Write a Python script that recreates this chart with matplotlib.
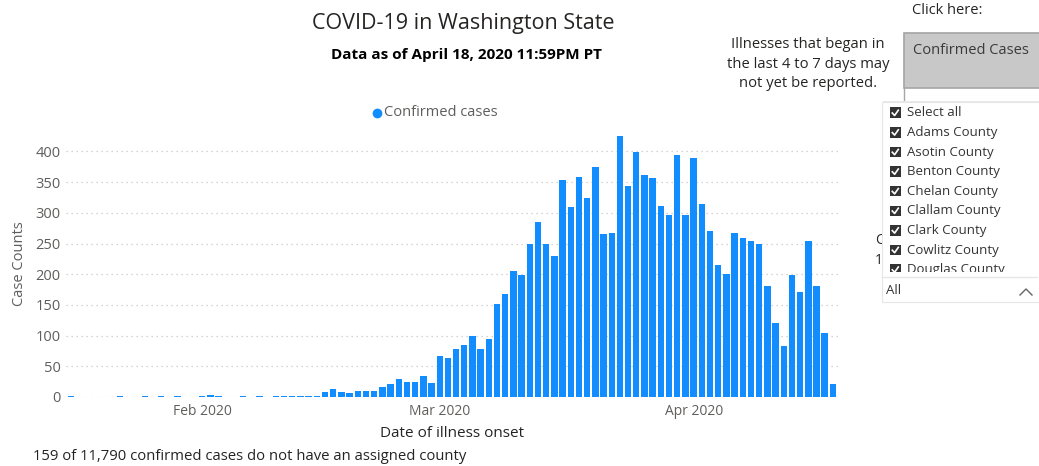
import pandas as pd
import matplotlib
matplotlib.use("Agg")
import matplotlib.pyplot as plt
import matplotlib.dates as mdates
from matplotlib.patches import Rectangle
from matplotlib.lines import Line2D

plt.rcParams['font.family'] = ['Open Sans', 'DejaVu Sans']

# daily confirmed cases by date of illness onset
days = pd.date_range('2020-01-16', '2020-04-18', freq='D')
cases_jan = [1, 0, 0, 0, 0, 0, 1, 0, 0, 1, 0, 1, 0, 1, 0, 0]
cases_feb = [2, 3, 2, 0, 0, 1, 0, 1, 0, 1, 1, 1, 1, 1, 2, 8, 13, 8, 6, 10,
             10, 10, 16, 21, 29, 24, 25, 35, 22]
cases_mar = [67, 64, 79, 85, 99, 78, 94, 152, 168, 205, 199, 250, 285, 250,
             230, 354, 309, 358, 325, 375, 266, 268, 425, 344, 399, 362, 357,
             311, 297, 394, 297]
cases_apr = [390, 314, 271, 215, 201, 268, 259, 254, 250, 181, 120, 83, 198,
             171, 254, 181, 104, 21]
cases = cases_jan + cases_feb + cases_mar + cases_apr

y_ticks = [0, 50, 100, 150, 200, 250, 300, 350, 400]
month_ticks = pd.to_datetime(['2020-02-01', '2020-03-01', '2020-04-01'])
counties = ["Select all", "Adams County", "Asotin County", "Benton County",
            "Chelan County", "Clallam County", "Clark County",
            "Cowlitz County", "Douglas County"]

BLUE = '#118DFF'
GREY = '#605E5C'
DARK = '#252423'

W, H = 1039, 466
fig = plt.figure(figsize=(W / 100, H / 100), dpi=100)


def fx(x):
    return x / W


def fy(y):
    return 1 - y / H


ax = fig.add_axes([fx(66), fy(397), fx(838) - fx(66), fy(130) - fy(397)])
ax.bar(days, cases, width=0.78, color=BLUE, zorder=2)
ax.set_xlim(days[0] - pd.Timedelta(hours=15), days[-1] + pd.Timedelta(hours=15))
ax.set_ylim(0, 435)
ax.set_yticks(y_ticks)
ax.set_xticks(month_ticks)
ax.xaxis.set_major_formatter(mdates.DateFormatter('%b %Y'))
ax.grid(axis='y', linestyle=(0, (1, 3)), color='#C8C6C4', linewidth=0.9)
ax.set_axisbelow(True)
for s in ax.spines.values():
    s.set_visible(False)
ax.tick_params(length=0, labelcolor=GREY, labelsize=10.5)
ax.tick_params(axis='y', pad=4)
ax.tick_params(axis='x', pad=5, labelsize=10)
ax.set_xlabel("Date of illness onset", fontsize=11, color=DARK, labelpad=5)
ax.set_ylabel("Case Counts", fontsize=10.5, color=GREY, labelpad=6)

# titles
fig.text(fx(463), fy(24), "COVID-19 in Washington State", fontsize=15.5,
         color=DARK, ha='center', va='center')
fig.text(fx(466), fy(55), "Data as of April 18, 2020 11:59PM PT", fontsize=11,
         fontweight='bold', color='black', ha='center', va='center')

# legend
fig.add_artist(Line2D([fx(377)], [fy(113)], marker='o', markersize=6,
                      color=BLUE, transform=fig.transFigure))
fig.text(fx(384), fy(113), "Confirmed cases", fontsize=10.5, color=GREY,
         ha='left', va='center')

# note
fig.text(fx(808), fy(64),
         "Illnesses that began in\nthe last 4 to 7 days may\nnot yet be reported.",
         fontsize=10.6, color=DARK, ha='center', va='center', linespacing=1.38)
fig.text(fx(33), fy(456), "159 of 11,790 confirmed cases do not have an assigned county",
         fontsize=10.7, color=DARK, ha='left', va='center')

# button
fig.text(fx(947), fy(10), "Click here:", fontsize=10.5, color=DARK,
         ha='center', va='center')
fig.add_artist(Rectangle((fx(904), fy(115)), fx(140), fy(33) - fy(115),
                         transform=fig.transFigure, facecolor='white',
                         edgecolor='#A6A6A6', linewidth=1, zorder=1))
fig.add_artist(Rectangle((fx(904), fy(88)), fx(140), fy(33) - fy(88),
                         transform=fig.transFigure, facecolor='#C8C8C8',
                         edgecolor='#A6A6A6', linewidth=1.2, zorder=1))
fig.text(fx(913), fy(51), "Confirmed Cases", fontsize=10.5, color='#3A3A3A',
         ha='left', va='center', zorder=2)

# text hidden behind the slicer
fig.text(fx(875), fy(241), "C", fontsize=10, color=DARK, ha='left',
         va='center', zorder=1)
fig.text(fx(875), fy(260), "1", fontsize=10, color=DARK, ha='left',
         va='center', zorder=1)

# slicer panel
fig.add_artist(Rectangle((fx(883), fy(303)), fx(158), fy(101) - fy(303),
                         transform=fig.transFigure, facecolor='#EAEAEA',
                         edgecolor='none', zorder=4))
panel = Rectangle((fx(882), fy(302)), fx(158), fy(102) - fy(302),
                  transform=fig.transFigure, facecolor='white',
                  edgecolor='#E6E6E6', linewidth=0.8, zorder=5)
fig.add_artist(panel)
clip = Rectangle((fx(882), fy(271.5)), fx(158), fy(102) - fy(271.5),
                 transform=fig.transFigure, facecolor='none', edgecolor='none')
fig.add_artist(clip)
for i, name in enumerate(counties):
    yc = 113 + i * 19.6
    box = Rectangle((fx(890), fy(yc + 5)), fx(10.5), fy(yc - 5.5) - fy(yc + 5),
                    transform=fig.transFigure, facecolor='#333333',
                    edgecolor='none', zorder=6)
    fig.add_artist(box)
    box.set_clip_path(clip)
    tick = Line2D([fx(892.3), fx(894.6), fx(898.3)],
                  [fy(yc), fy(yc + 2.5), fy(yc - 2.8)],
                  color='white', linewidth=1.2, transform=fig.transFigure,
                  zorder=7)
    fig.add_artist(tick)
    tick.set_clip_path(clip)
    t = fig.text(fx(907), fy(yc), name, fontsize=9.5, color='#333333',
                 ha='left', va='center', zorder=7)
    t.set_clip_path(clip)
fig.add_artist(Line2D([fx(882), fx(1037)], [fy(277), fy(277)], color='#E6E6E6',
                      linewidth=1, transform=fig.transFigure, zorder=6))
fig.text(fx(886), fy(291), "All", fontsize=9.5, color='#333333', ha='left',
         va='center', zorder=7)
fig.add_artist(Line2D([fx(1020), fx(1026), fx(1032)], [fy(295), fy(289), fy(295)],
                      color='#666666', linewidth=1, transform=fig.transFigure,
                      zorder=7))

fig.savefig('out.png', dpi=100)
